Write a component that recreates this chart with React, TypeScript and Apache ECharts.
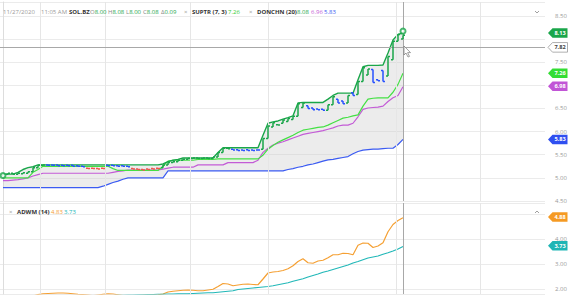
import React, { useEffect, useRef } from "react";
import * as echarts from "echarts";

// ---------- data (bar index 0..80) ----------
const upperBand = [
  5.08, 5.08, 5.08, 5.12, 5.18, 5.22, 5.24,
  5.28, 5.28, 5.28, 5.28, 5.28, 5.28, 5.28, 5.28, 5.28, 5.28, 5.28, 5.28, 5.28,
  5.28, 5.28, 5.28, 5.28, 5.28, 5.28, 5.28, 5.28, 5.28, 5.28, 5.28, 5.28,
  5.30, 5.35, 5.38, 5.40,
  5.43, 5.43, 5.43, 5.43, 5.43, 5.43, 5.43,
  5.55, 5.65,
  5.65, 5.65, 5.65, 5.65, 5.65, 5.65, 5.65,
  5.92, 6.18, 6.21, 6.23, 6.27, 6.30, 6.34, 6.62,
  6.63, 6.63, 6.63, 6.63, 6.63,
  6.70, 6.78, 6.83,
  6.83, 6.83, 6.83,
  7.12, 7.40, 7.43, 7.43, 7.43, 7.44, 7.70, 7.98, 8.10, 8.13,
];
const middleBand = [
  4.94, 4.94, 4.95, 4.96, 4.98, 5.0, 5.04, 5.07,
  5.1, 5.1, 5.1, 5.1, 5.1, 5.1, 5.1, 5.1, 5.1, 5.1, 5.1, 5.1, 5.1, 5.1,
  5.12, 5.14, 5.15,
  5.17, 5.17, 5.17, 5.17, 5.17, 5.17, 5.17,
  5.19, 5.21,
  5.23, 5.23, 5.23, 5.23, 5.23,
  5.28, 5.28, 5.28, 5.28, 5.28, 5.28,
  5.33, 5.33, 5.33, 5.33, 5.33, 5.33,
  5.38,
  5.55, 5.64, 5.71, 5.75, 5.78, 5.82, 5.86, 5.9, 5.94, 5.96, 5.98, 6.0, 6.02, 6.05,
  6.08, 6.12, 6.14, 6.14, 6.18, 6.32, 6.48, 6.51, 6.52, 6.53, 6.55, 6.65, 6.73, 6.78, 6.97,
];
const lowerBand = [
  4.79, 4.79, 4.79, 4.79, 4.79, 4.79, 4.79, 4.79, 4.79, 4.79,
  4.79, 4.79, 4.79, 4.79, 4.79, 4.79, 4.79, 4.79, 4.79, 4.79,
  4.82, 4.86, 4.9, 4.93, 4.97,
  5.0, 5.0, 5.0, 5.0, 5.0, 5.0, 5.0, 5.0,
  5.15, 5.15, 5.15, 5.15, 5.15, 5.15, 5.15, 5.15, 5.15, 5.15, 5.15, 5.15,
  5.15, 5.15, 5.15, 5.15, 5.15, 5.15, 5.15, 5.15, 5.15, 5.15, 5.15, 5.15,
  5.18, 5.2, 5.23, 5.25, 5.28, 5.3, 5.33, 5.36, 5.39, 5.4, 5.42, 5.44,
  5.46, 5.52, 5.57, 5.6, 5.61, 5.62, 5.62, 5.63, 5.64, 5.64, 5.72, 5.83,
];
const superTrend = [
  5.0, 5.0, 5.0, 5.0, 5.0, 5.0, 5.12, 5.18,
  5.25, 5.25, 5.25, 5.25, 5.25, 5.25, 5.25, 5.25, 5.25, 5.25, 5.25, 5.25, 5.25, 5.25,
  5.2, 5.16,
  5.16, 5.16, 5.16, 5.16, 5.16, 5.16, 5.16, 5.16,
  5.25, 5.36,
  5.38, 5.38, 5.38, 5.38, 5.38,
  5.4, 5.4, 5.4, 5.4,
  5.41, 5.41, 5.41, 5.41, 5.41, 5.41, 5.41, 5.41, 5.41,
  5.49, 5.62, 5.7, 5.77, 5.82, 5.87, 5.92, 5.98, 6.03, 6.05, 6.07, 6.09, 6.1, 6.14,
  6.19, 6.24, 6.29, 6.31, 6.34, 6.36, 6.55, 6.7, 6.72, 6.73, 6.73, 6.73, 6.85, 7.02, 7.26,
];
const barOpen = [
  5.06, 5.08, 5.1, 5.08, 5.09, 5.1, 5.13, 5.22, 5.27, 5.28,
  5.28, 5.28, 5.27, 5.27, 5.27, 5.26, 5.25, 5.21, 5.21, 5.2,
  5.21, 5.27, 5.27, 5.26, 5.26, 5.25, 5.2, 5.19, 5.18, 5.19,
  5.2, 5.21, 5.22, 5.28, 5.33, 5.35, 5.38, 5.4, 5.42, 5.43,
  5.42, 5.43, 5.42, 5.45, 5.55, 5.64, 5.62, 5.61, 5.6, 5.61,
  5.6, 5.6, 5.62, 5.85, 6.1, 6.15, 6.18, 6.22, 6.26, 6.33,
  6.52, 6.56, 6.51, 6.49, 6.48, 6.46, 6.58, 6.7, 6.66, 6.62,
  6.84, 6.8, 7.08, 7.22, 7.34, 7.12, 7.32, 7.2, 7.55, 7.95, 8.0,
];
const barClose = [
  5.08, 5.1, 5.08, 5.1, 5.11, 5.13, 5.22, 5.27, 5.28, 5.27,
  5.27, 5.26, 5.26, 5.26, 5.25, 5.25, 5.24, 5.2, 5.2, 5.19,
  5.2, 5.26, 5.26, 5.25, 5.25, 5.24, 5.19, 5.18, 5.17, 5.18,
  5.19, 5.2, 5.28, 5.33, 5.35, 5.38, 5.4, 5.42, 5.43, 5.42,
  5.43, 5.42, 5.45, 5.55, 5.64, 5.63, 5.6, 5.59, 5.59, 5.59,
  5.59, 5.6, 5.85, 6.12, 6.19, 6.14, 6.25, 6.28, 6.33, 6.6,
  6.62, 6.5, 6.47, 6.47, 6.46, 6.58, 6.75, 6.62, 6.6, 6.78,
  6.78, 7.08, 7.38, 7.35, 7.06, 7.1, 7.08, 7.62, 7.95, 8.1, 8.08,
];
const barTone = [
  "ggggggggg", "bbbbbbbb", "rrrr", "bbbbb", "rrrrrr", "gggggggggggggg", "bbbbbb",
  "ggggggggg", "bbbb", "gg", "bb", "g", "b", "ggg", "bbb", "gggg",
].join("").split("");
const ringMarkers = [
  [0, 5.05],
  [80, 8.17],
];
const adwmFast = [
  null, null, null, null, null, null,
  1.72, 1.78, 1.81, 1.82, 1.83, 1.84, 1.84, 1.83, 1.81, 1.79, 1.78, 1.76, 1.73, 1.76,
  1.79, 1.81, 1.8, 1.77, 1.74, 1.72, 1.73, 1.74, 1.75, 1.75, 1.76, 1.77,
  1.8, 1.88, 1.91, 1.93, 1.95, 1.96, 1.95, 1.93, 1.93, 1.96, 1.99,
  2.1, 2.22, 2.2, 2.13, 2.16, 2.19, 2.2, 2.18, 2.17,
  2.4, 2.64, 2.68, 2.7, 2.74, 2.81, 2.93, 3.1, 3.21,
  3.05, 3.03, 3.12, 3.15, 3.25, 3.37, 3.37, 3.43, 3.42, 3.37,
  3.75, 3.84, 3.83, 3.66, 3.72, 3.85, 4.29, 4.58, 4.74, 4.85,
];
const adwmSlow = [
  null, null, null, null, null, null, null, null, null, null,
  null, null, null, null, null, null, null, null,
  1.72, 1.73, 1.73, 1.74, 1.74, 1.75, 1.75, 1.76, 1.76, 1.77, 1.77, 1.78,
  1.78, 1.79, 1.79, 1.8, 1.8, 1.81, 1.81, 1.81, 1.82, 1.83, 1.84, 1.85, 1.85,
  1.87, 1.89, 1.91, 1.93, 1.98, 2.0, 2.02, 2.04, 2.06, 2.08,
  2.1, 2.13, 2.17, 2.21, 2.25, 2.31, 2.36, 2.41, 2.48, 2.54,
  2.6, 2.67, 2.72, 2.78, 2.84, 2.9, 2.96, 3.04, 3.1, 3.17,
  3.24, 3.28, 3.32, 3.39, 3.45, 3.52, 3.6, 3.7,
];
const timeGridAt = [7.4, 20.4, 37.4, 53, 78.6, 95.4];
const cursorBar = 80;
const cursorPrice = 7.82;
const mainTags = [
  { v: 8.13, bg: "#1aa64a", fg: "#fff", text: "8.13" },
  { v: 7.26, bg: "#33dd33", fg: "#fff", text: "7.26" },
  { v: 6.98, bg: "#c155d6", fg: "#fff", text: "6.98" },
  { v: 5.83, bg: "#2f4ff0", fg: "#fff", text: "5.83" },
];
const lowerTags = [
  { v: 4.88, bg: "#f59a23", fg: "#fff", text: "4.88" },
  { v: 3.73, bg: "#1fb5b5", fg: "#fff", text: "3.73" },
];
// axis labels that sit under a price tag
const mainHiddenLabels = [8.0, 7.0];
const lowerHiddenLabels = [5.0];

const C_UP = "#1aa64a";
const C_ST = "#44e044";
const C_MID = "#c35bd6";
const C_LOW = "#3b5bf2";
const C_OR = "#f5a033";
const C_TE = "#22b8b8";
const TONE: Record<string, string> = { g: "#1aa64a", b: "#2952ff", r: "#f2554d" };
const FONT = "'Open Sans', 'Noto Sans', sans-serif";
const FS = 6;

const pairs = (arr: (number | null)[]) =>
  arr.map((v, i) => (v == null ? null : [i, v])).filter((p) => p !== null) as number[][];

const fmtExcept = (hidden: number[]) => (v: number) =>
  hidden.some((h) => Math.abs(h - v) < 1e-6) ? "" : v.toFixed(2);

function buildOption(): any {
  const lineBase = { type: "line", symbol: "none", showSymbol: false, silent: true, clip: true };
  const gridMark = (withH: boolean) => ({
    silent: true,
    symbol: ["none", "none"],
    label: { show: false },
    lineStyle: { color: "#e6e6e6", type: "solid", width: 1 },
    data: [
      ...timeGridAt.map((x) => ({ xAxis: x })),
      { xAxis: cursorBar, lineStyle: { color: "#a8a8a8", type: "solid", width: 1 } },
      ...(withH ? [{ yAxis: cursorPrice, lineStyle: { color: "#a8a8a8", type: "solid", width: 1 } }] : []),
    ],
  });
  return {
    animation: false,
    backgroundColor: "#ffffff",
    grid: [
      { left: 0, right: 30, top: 2, height: 199 },
      { left: 0, right: 30, top: 203, height: 91 },
    ],
    xAxis: [
      { gridIndex: 0, type: "value", min: -0.6, max: 108.4, show: false },
      { gridIndex: 1, type: "value", min: -0.6, max: 108.4, show: false },
    ],
    yAxis: [
      {
        gridIndex: 0, type: "value", position: "right", min: 4.5, max: 8.8, interval: 0.5,
        axisLine: { show: true, lineStyle: { color: "#dddddd" } },
        axisTick: { show: false },
        axisLabel: { color: "#9a9a9a", fontSize: FS, fontFamily: FONT, margin: 10, showMaxLabel: false,
          formatter: fmtExcept(mainHiddenLabels) },
        splitLine: { lineStyle: { color: "#ebebeb" } },
      },
      {
        gridIndex: 1, type: "value", position: "right", min: 1.8, max: 5.44, splitNumber: 4,
        axisLine: { show: true, lineStyle: { color: "#dddddd" } },
        axisTick: { show: false },
        axisLabel: { color: "#9a9a9a", fontSize: FS, fontFamily: FONT, margin: 10,
          showMaxLabel: false, showMinLabel: false, formatter: fmtExcept(lowerHiddenLabels) },
        splitLine: { lineStyle: { color: "#ebebeb" } },
      },
    ],
    series: [
      { ...lineBase, name: "grid0", xAxisIndex: 0, yAxisIndex: 0, z: 0, data: [[0, 5]],
        lineStyle: { opacity: 0 }, markLine: gridMark(true) },
      {
        type: "custom", name: "bandFill", xAxisIndex: 0, yAxisIndex: 0, z: 1, silent: true, clip: true,
        data: upperBand.map((u, i) => [i, u, lowerBand[i]]),
        encode: { x: 0, y: [1, 2] },
        renderItem: (params: any, api: any) => {
          if (params.dataIndex !== 0) return null;
          const top = upperBand.map((u, i) => api.coord([i, u]));
          const bottom = lowerBand.map((l, i) => api.coord([i, l])).reverse();
          return {
            type: "polygon",
            shape: { points: [...top, ...bottom] },
            style: { fill: "rgba(200,200,200,0.35)", stroke: "none" },
          };
        },
      },
      { ...lineBase, name: "lower", xAxisIndex: 0, yAxisIndex: 0, z: 3, data: pairs(lowerBand),
        lineStyle: { color: C_LOW, width: 1.2 } },
      { ...lineBase, name: "middle", xAxisIndex: 0, yAxisIndex: 0, z: 3, data: pairs(middleBand),
        lineStyle: { color: C_MID, width: 1.2 } },
      { ...lineBase, name: "supertrend", xAxisIndex: 0, yAxisIndex: 0, z: 3, data: pairs(superTrend),
        lineStyle: { color: C_ST, width: 1.2 } },
      { ...lineBase, name: "upper", xAxisIndex: 0, yAxisIndex: 0, z: 4, data: pairs(upperBand),
        lineStyle: { color: C_UP, width: 1.4 } },
      {
        type: "custom", name: "price", xAxisIndex: 0, yAxisIndex: 0, z: 5, silent: true, clip: true,
        data: barOpen.map((o, i) => [i, o, barClose[i], "gbr".indexOf(barTone[i])]),
        encode: { x: 0, y: [1, 2] },
        renderItem: (_p: any, api: any) => {
          const i = api.value(0);
          const po = api.coord([i, api.value(1)]);
          const pc = api.coord([i, api.value(2)]);
          const color = TONE["gbr"[api.value(3)]];
          const st = { stroke: color, lineWidth: 1.5 };
          return {
            type: "group",
            children: [
              { type: "line", shape: { x1: po[0], y1: po[1], x2: pc[0], y2: pc[1] }, style: st },
              { type: "line", shape: { x1: po[0] - 2, y1: po[1], x2: po[0], y2: po[1] }, style: st },
              { type: "line", shape: { x1: pc[0], y1: pc[1], x2: pc[0] + 2, y2: pc[1] }, style: st },
            ],
          };
        },
      },
      { type: "scatter", name: "rings", xAxisIndex: 0, yAxisIndex: 0, z: 6, silent: true,
        data: ringMarkers, symbol: "emptyCircle", symbolSize: 5,
        itemStyle: { color: C_UP, borderColor: C_UP, borderWidth: 1.3 } },
      { ...lineBase, name: "grid1", xAxisIndex: 1, yAxisIndex: 1, z: 0, data: [[0, 3]],
        lineStyle: { opacity: 0 }, markLine: gridMark(false) },
      { ...lineBase, name: "adwmFast", xAxisIndex: 1, yAxisIndex: 1, z: 3, data: pairs(adwmFast),
        lineStyle: { color: C_OR, width: 1.2 } },
      { ...lineBase, name: "adwmSlow", xAxisIndex: 1, yAxisIndex: 1, z: 3, data: pairs(adwmSlow),
        lineStyle: { color: C_TE, width: 1.2 } },
    ],
  };
}

function txt(x: number, y: number, text: string, fill: string, bold = false) {
  return {
    type: "text", x, y, silent: true, z: 100,
    style: { text, fill, fontSize: FS, fontFamily: FONT, fontWeight: bold ? "bold" : "normal",
      textVerticalAlign: "middle", verticalAlign: "middle" },
  };
}
function kv(x: number, y: number, k: string, v: string, vc: string) {
  return {
    type: "text", x, y, silent: true, z: 100,
    style: {
      text: `{k|${k}}{v|${v}}`, fontSize: FS, fontFamily: FONT,
      textVerticalAlign: "middle", verticalAlign: "middle",
      rich: { k: { fill: "#888", color: "#888", fontSize: FS, fontFamily: FONT },
        v: { fill: vc, color: vc, fontSize: FS, fontFamily: FONT } },
    },
  };
}
function tag(y: number, bg: string, fg: string, text: string, border?: string) {
  return [
    { type: "polygon", silent: true, z: 110,
      shape: { points: [[548, y], [552.5, y - 4.8], [567.5, y - 4.8], [567.5, y + 4.8], [552.5, y + 4.8]] },
      style: { fill: bg, stroke: border || bg, lineWidth: border ? 0.8 : 0 } },
    { type: "text", silent: true, z: 111, x: 560, y,
      style: { text, fill: fg, fontSize: 5.6, fontWeight: "bold", fontFamily: FONT,
        textAlign: "center", align: "center", textVerticalAlign: "middle", verticalAlign: "middle" } },
  ];
}

export default function App() {
  const ref = useRef<HTMLDivElement>(null);
  useEffect(() => {
    const el = ref.current!;
    const chart = echarts.init(el, null, { renderer: "svg" });
    chart.setOption(buildOption());
    const y0 = (v: number) => chart.convertToPixel({ yAxisIndex: 0 }, v) as number;
    const y1 = (v: number) => chart.convertToPixel({ yAxisIndex: 1 }, v) as number;
    const graphics: any[] = [
      txt(3, 12, "11/27/2020", "#9a9a9a"),
      txt(41, 12, "11:05 AM", "#9a9a9a"),
      txt(69, 12, "SOL.BZ", "#333", true),
      kv(90, 12, "O", "8.00", C_UP),
      kv(108, 12, "H", "8.08", C_UP),
      kv(126, 12, "L", "8.00", C_UP),
      kv(143, 12, "C", "8.08", C_UP),
      kv(161, 12, "Δ", "0.09", C_UP),
      txt(184, 12, "×", "#999"),
      txt(192, 12, "SUPTR (7, 3)", "#333", true),
      txt(228, 12, "7.26", "#33cc33"),
      txt(249, 12, "×", "#999"),
      txt(257, 12, "DONCHN (20)", "#333", true),
      txt(297, 12, "8.08", C_UP),
      txt(311, 12, "6.96", C_MID),
      txt(324, 12, "5.83", C_LOW),
      txt(9, 212, "×", "#999"),
      txt(17, 212, "ADWM (14)", "#333", true),
      txt(51, 212, "4.83", C_OR),
      txt(64, 212, "3.73", C_TE),
      { type: "polyline", silent: true, z: 100, shape: { points: [[535, 11], [537, 13], [539, 11]] },
        style: { stroke: "#888", lineWidth: 0.8, fill: "none" } },
      { type: "polyline", silent: true, z: 100, shape: { points: [[535, 213], [537, 211], [539, 213]] },
        style: { stroke: "#888", lineWidth: 0.8, fill: "none" } },
      { type: "polygon", silent: true, z: 120,
        shape: { points: [[404, 46], [404, 55], [406, 53], [408, 57], [409.5, 56.4], [407.6, 52.6], [410.5, 52.6]] },
        style: { fill: "#ffffff", stroke: "#777", lineWidth: 0.7 } },
    ];
    mainTags.forEach((t) => graphics.push(...tag(y0(t.v), t.bg, t.fg, t.text)));
    graphics.push(...tag(y0(cursorPrice), "#ffffff", "#444", cursorPrice.toFixed(2), "#9a9a9a"));
    lowerTags.forEach((t) => graphics.push(...tag(y1(t.v), t.bg, t.fg, t.text)));
    chart.setOption({ graphic: graphics });
    return () => chart.dispose();
  }, []);
  return <div ref={ref} style={{ position: "absolute", left: 0, top: 0, width: 575, height: 308 }} />;
}
